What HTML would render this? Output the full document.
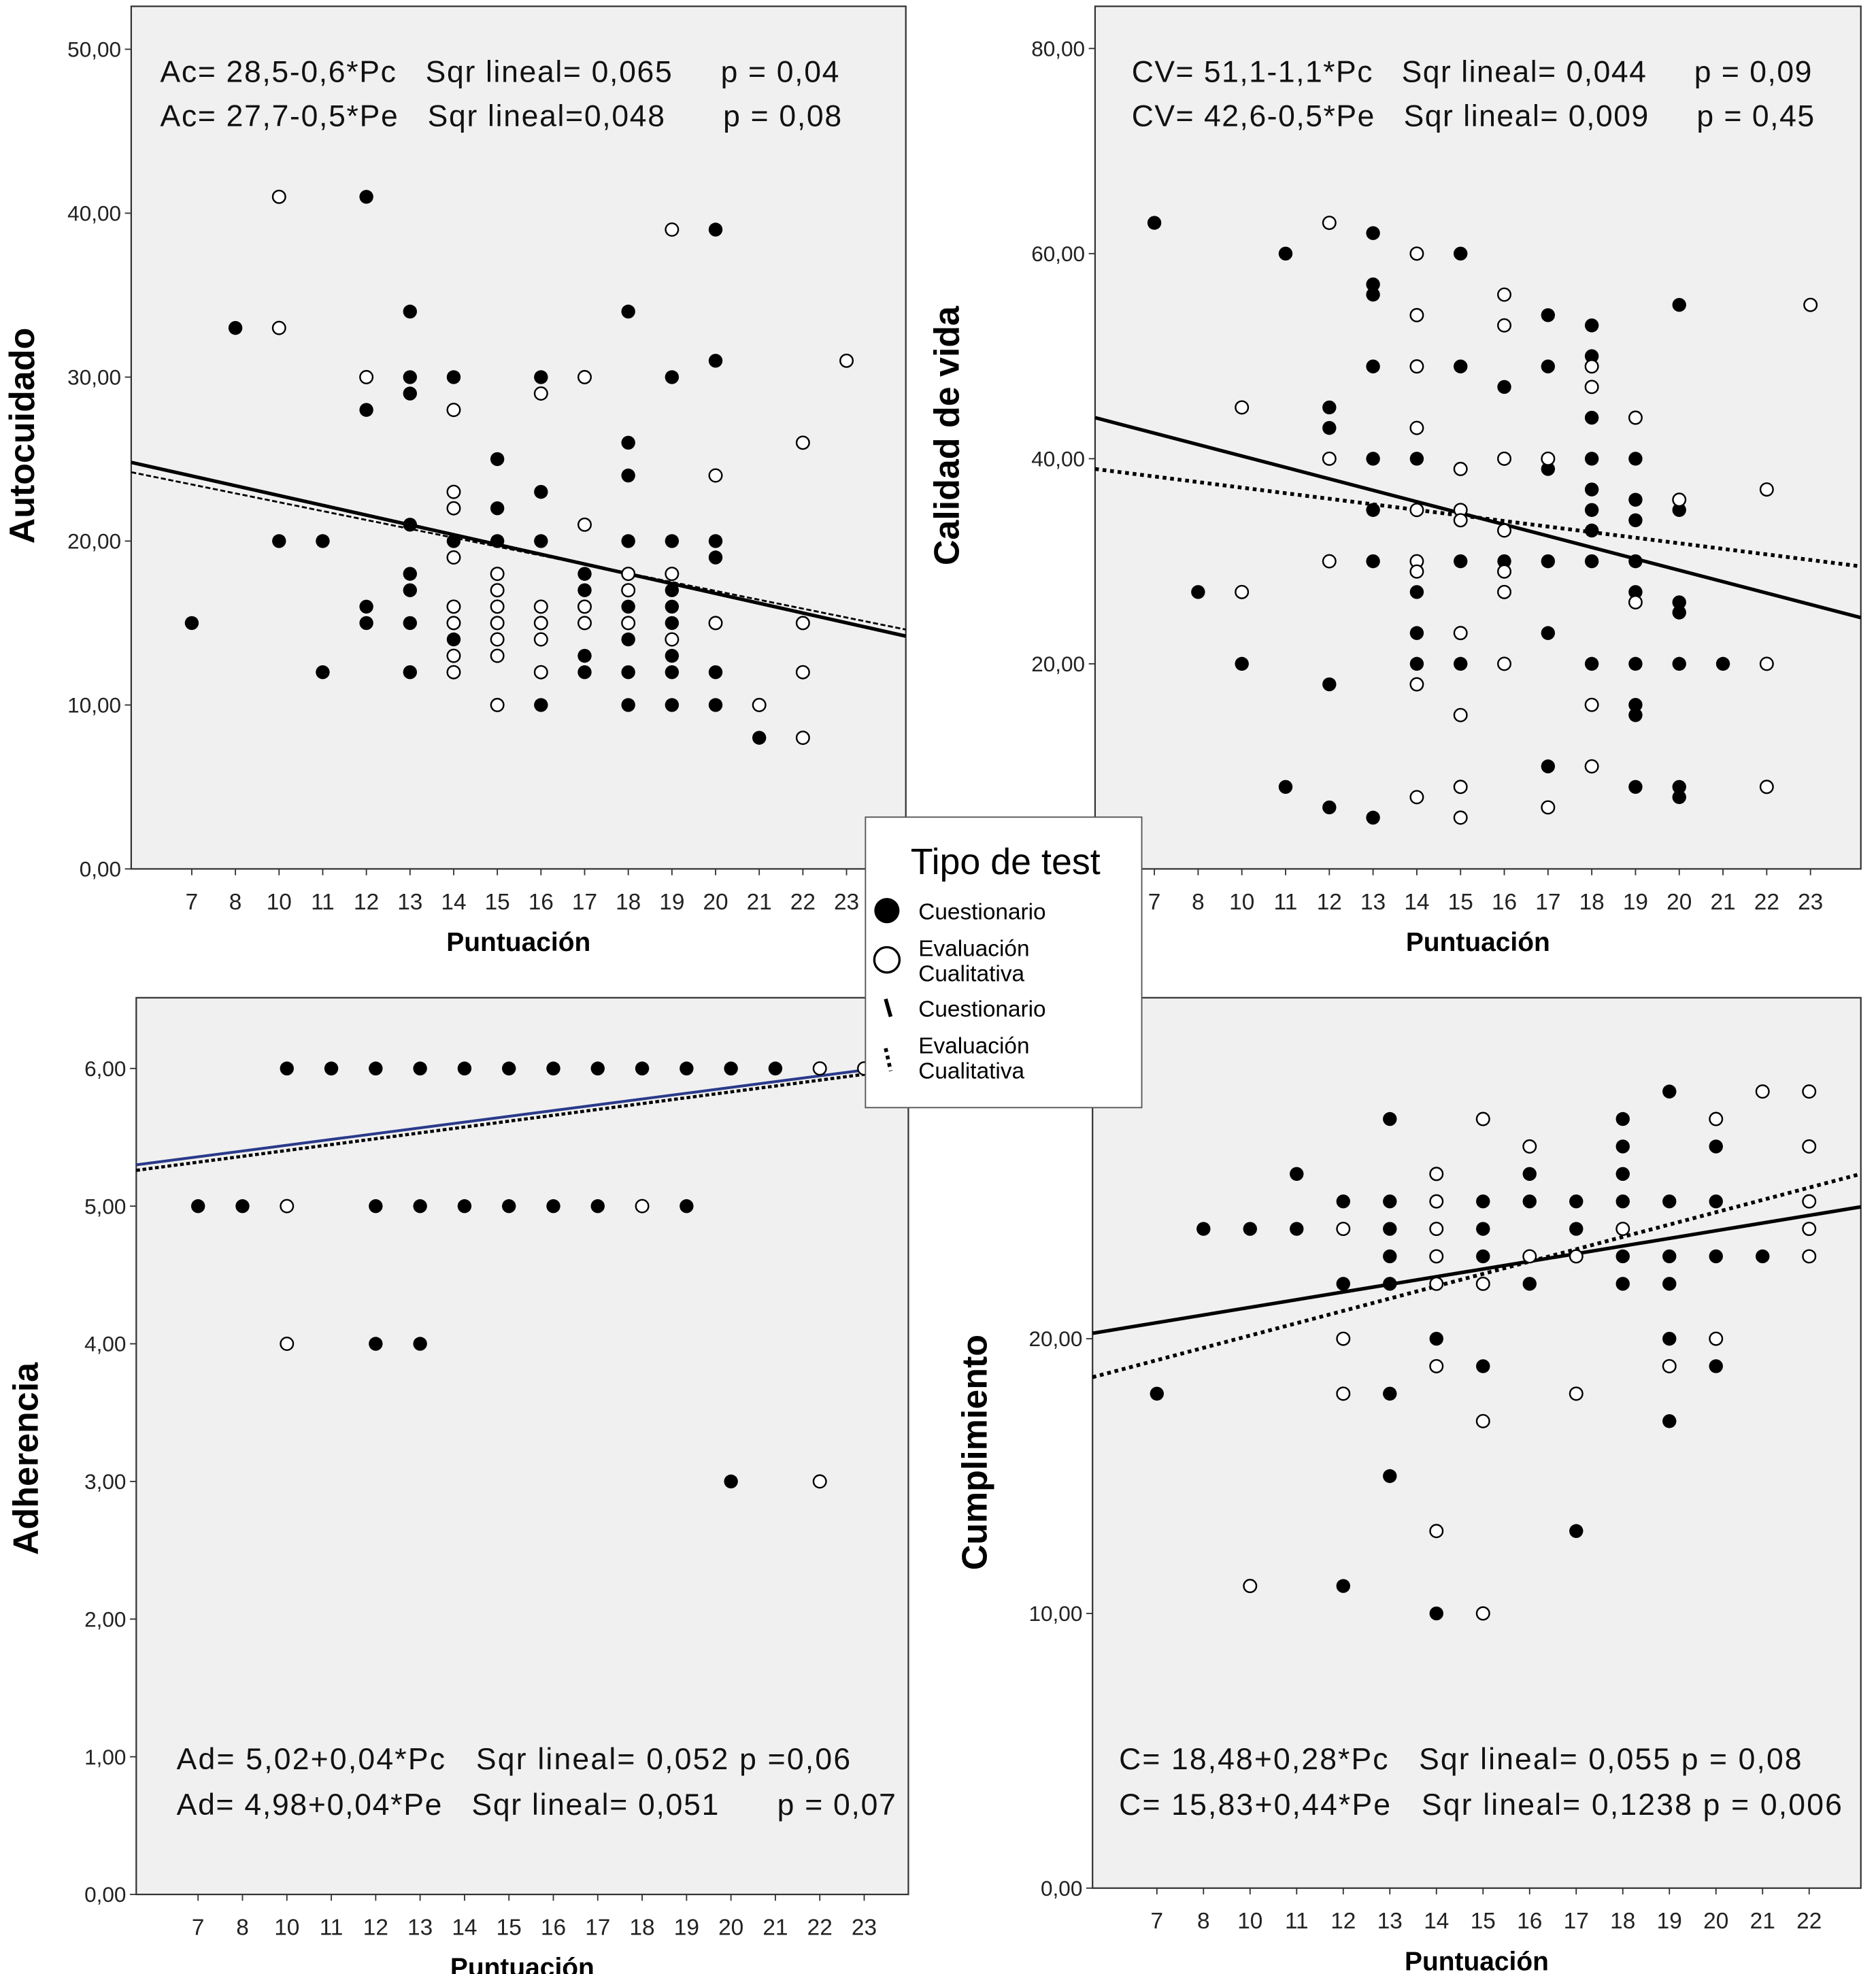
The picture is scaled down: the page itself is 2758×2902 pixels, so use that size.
<!DOCTYPE html>
<html><head><meta charset="utf-8">
<style>
html,body{margin:0;padding:0;background:#fff;}
svg{display:block;}
text{font-family:"Liberation Sans",sans-serif;}
</style></head>
<body>
<svg id="chart" width="2758" height="2902" viewBox="0 0 1487 1563" preserveAspectRatio="none" xmlns="http://www.w3.org/2000/svg">
<rect x="0" y="0" width="1487" height="1563" fill="#fff"/>
<g id="legend">
  <rect x="686" y="647" width="219" height="230" fill="#fff" stroke="#555" stroke-width="1"/>
  <text x="797" y="692" font-size="29" text-anchor="middle">Tipo de test</text>
  <circle cx="703" cy="721" r="10" fill="#000"/>
  <text x="728" y="728" font-size="18">Cuestionario</text>
  <circle cx="703" cy="760" r="10" fill="#fff" stroke="#000" stroke-width="1.8"/>
  <text x="728" y="757" font-size="18"><tspan x="728">Evaluación</tspan><tspan x="728" dy="20">Cualitativa</tspan></text>
  <line x1="702" y1="791" x2="706" y2="805" stroke="#000" stroke-width="3"/>
  <text x="728" y="805" font-size="18">Cuestionario</text>
  <line x1="702" y1="830" x2="706" y2="848" stroke="#000" stroke-width="3" stroke-dasharray="3,3"/>
  <text x="728" y="834" font-size="18"><tspan x="728">Evaluación</tspan><tspan x="728" dy="20">Cualitativa</tspan></text>
</g>
<script>
// ---------- Panel 1: Autocuidado ----------
const p1Categories = [7,8,10,11,12,13,14,15,16,17,18,19,20,21,22,23];
const p1YTicks = [0,10,20,30,40,50];
const p1YTickLabels = ["0,00","10,00","20,00","30,00","40,00","50,00"];
const p1FilledX = [7,8,10,11,11,12,12,12,12,13,13,13,13,13,13,13,13,14,14,14,14,15,15,15,15,15,16,16,16,16,17,17,17,17,17,17,18,18,18,18,18,18,18,18,18,18,19,19,19,19,19,19,19,19,20,20,20,20,20,20,21];
const p1FilledY = [15,33,20,20,12,41,28,16,15,34,30,29,21,18,17,15,12,30,20,15,14,25,22,20,16,15,30,23,20,10,18,17,16,15,13,12,34,26,24,20,18,16,15,14,12,10,30,20,17,16,15,13,12,10,39,31,20,19,12,10,8];
const p1OpenX = [10,10,12,14,14,14,14,14,14,14,14,15,15,15,15,15,15,15,16,16,16,16,16,17,17,17,17,18,18,18,19,19,19,20,20,21,22,22,22,22,23];
const p1OpenY = [41,33,30,28,23,22,19,16,15,13,12,18,17,16,15,14,13,10,29,16,15,14,12,30,21,16,15,18,17,15,39,18,14,24,15,10,26,15,12,8,31];
const p1LineSolid = [24.8,14.2];
const p1LineDashed = [24.2,14.6];

// ---------- Panel 2: Calidad de vida ----------
const p2Categories = [7,8,10,11,12,13,14,15,16,17,18,19,20,21,22,23];
const p2YTicks = [20,40,60,80];
const p2YTickLabels = ["20,00","40,00","60,00","80,00"];
const p2FilledX = [7,8,10,11,11,12,12,12,12,13,13,13,13,13,13,13,13,14,14,14,14,15,15,15,15,16,16,16,17,17,17,17,17,17,18,18,18,18,18,18,18,18,18,19,19,19,19,19,19,19,19,19,20,20,20,20,20,20,20,21];
const p2FilledY = [63,27,20,60,8,45,43,18,6,62,57,56,49,40,35,30,5,40,27,23,20,60,49,30,20,47,30,29,54,49,39,30,23,10,53,50,44,40,37,35,33,30,20,40,36,34,30,27,20,16,15,8,55,35,26,25,20,8,7,20];
const p2OpenX = [10,10,12,12,12,14,14,14,14,14,14,14,14,14,15,15,15,15,15,15,15,16,16,16,16,16,16,16,17,17,18,18,18,18,19,19,20,22,22,22,23];
const p2OpenY = [45,27,63,40,30,60,54,49,43,35,30,29,18,7,39,35,34,23,15,8,5,56,53,40,33,29,27,20,40,6,49,47,16,10,44,26,36,37,20,8,55];
const p2LineSolid = [44,24.5];
const p2LineDashed = [39,29.5];

// ---------- Panel 3: Adherencia ----------
const p3Categories = [7,8,10,11,12,13,14,15,16,17,18,19,20,21,22,23];
const p3YTicks = [0,1,2,3,4,5,6];
const p3YTickLabels = ["0,00","1,00","2,00","3,00","4,00","5,00","6,00"];
const p3FilledX = [7,8,10,11,12,12,12,13,13,13,14,14,15,15,16,16,17,17,18,19,19,20,20,21];
const p3FilledY = [5,5,6,6,6,5,4,6,5,4,6,5,6,5,6,5,6,5,6,6,5,6,3,6];
const p3OpenX = [10,10,18,22,22,23];
const p3OpenY = [5,4,5,6,3,6];
const p3LineSolid = [5.3,6.03];
const p3LineDashed = [5.26,6.0];

// ---------- Panel 4: Cumplimiento ----------
const p4Categories = [7,8,10,11,12,13,14,15,16,17,18,19,20,21,22];
const p4YTicks = [0,10,20];
const p4YTickLabels = ["0,00","10,00","20,00"];
const p4FilledX = [7,8,10,11,11,12,12,12,13,13,13,13,13,13,13,14,14,14,14,14,15,15,15,15,15,16,16,16,16,17,17,17,17,18,18,18,18,18,18,18,19,19,19,19,19,19,20,20,20,20,21];
const p4FilledY = [18,24,24,26,24,25,22,11,28,25,24,23,22,18,15,25,24,23,20,10,25,24,23,22,19,26,25,23,22,25,24,23,13,28,27,26,25,24,23,22,29,25,23,22,20,17,27,25,23,19,23];
const p4OpenX = [10,12,12,12,14,14,14,14,14,14,14,15,15,15,15,16,16,17,17,18,19,20,20,21,22,22,22,22,22];
const p4OpenY = [11,24,20,18,26,25,24,23,22,19,13,28,22,17,10,27,23,23,18,24,19,28,20,29,29,27,25,24,23];
const p4LineSolid = [20.2,24.8];
const p4LineDashed = [18.6,26.0];

const NS = "http://www.w3.org/2000/svg";
const svg = document.getElementById('chart');
function mk(tag, attrs, parent){
  const e = document.createElementNS(NS, tag);
  for (const k in attrs) e.setAttribute(k, attrs[k]);
  (parent||svg).appendChild(e);
  return e;
}

function drawPanel(cfg){
  const g = mk('g', {});
  
  
  const L = cfg.box[0], T = cfg.box[1], R = cfg.box[2], B = cfg.box[3];
  const bg = mk('rect', {x:L, y:T, width:R-L, height:B-T, fill:'#f0f0f0', stroke:'#333', 'stroke-width':1.2}, g);
  
  
  const yScale = v => cfg.y0 - (v - 0) * cfg.ppu;
  const xScale = c => cfg.x0 + cfg.categories.indexOf(c) * cfg.dx;
  cfg.yTicks.forEach((t, i) => {
    const y = yScale(t);
    mk('line', {x1:L-5, y1:y, x2:L, y2:y, stroke:'#333', 'stroke-width':1}, g);
    const tx = mk('text', {x:L-8, y:y+6, 'font-size':17, 'text-anchor':'end', fill:'#222'}, g);
    tx.textContent = cfg.yLabels[i];
    
    
  });
  cfg.categories.forEach(c => {
    const x = xScale(c);
    mk('line', {x1:x, y1:B, x2:x, y2:B+5, stroke:'#333', 'stroke-width':1}, g);
    const tx = mk('text', {x:x, y:B+32, 'font-size':18, 'text-anchor':'middle', fill:'#222'}, g);
    tx.textContent = String(c);
    
    
  });
  const xt = mk('text', {x:(L+R)/2, y:B+65, 'font-size':21, 'font-weight':'bold', 'text-anchor':'middle'}, g);
  xt.textContent = 'Puntuación';
  
  
  const yt = mk('text', {x:0, y:0, 'font-size':28, 'font-weight':'bold', 'text-anchor':'middle', transform:`translate(${cfg.yTitleX},${cfg.yTitleY}) rotate(-90)`}, g);
  yt.textContent = cfg.yTitle;
  
  
  const ls = mk('line', {x1:L, y1:yScale(cfg.lineSolid[0]), x2:R, y2:yScale(cfg.lineSolid[1]), stroke:cfg.solidColor||'#000', 'stroke-width':cfg.solidW}, g);
  
  
  const ld = mk('line', {x1:L, y1:yScale(cfg.lineDashed[0]), x2:R, y2:yScale(cfg.lineDashed[1]), stroke:'#000', 'stroke-width':cfg.dashW, 'stroke-dasharray':cfg.dash}, g);
  
  
  cfg.filledX.forEach((xv, i) => {
    const c = mk('circle', {cx:xScale(xv), cy:yScale(cfg.filledY[i]), r:5.5, fill:'#000'}, g);
    
    
  });
  cfg.openX.forEach((xv, i) => {
    const c = mk('circle', {cx:xScale(xv), cy:yScale(cfg.openY[i]), r:5, fill:'#fff', stroke:'#000', 'stroke-width':1.3}, g);
    
    
  });
  cfg.notes.forEach((n, i) => {
    const t = mk('text', {x:n[0], y:n[1], 'font-size':24, fill:'#111', textLength:n[3], lengthAdjust:'spacing'}, g);
    t.style.whiteSpace = 'pre';
    t.textContent = n[2];
    
    
  });
}

drawPanel({name:'panel-autocuidado', box:[104,5,718,688], categories:p1Categories, x0:152, dx:34.6, y0:688, ppu:12.98,
  yTicks:p1YTicks, yLabels:p1YTickLabels, yTitle:'Autocuidado', yTitleX:27, yTitleY:345,
  filledX:p1FilledX, filledY:p1FilledY, openX:p1OpenX, openY:p1OpenY,
  lineSolid:p1LineSolid, lineDashed:p1LineDashed, solidW:2.8, dashW:1.5, dash:'4,2',
  notes:[[127,65,'Ac= 28,5-0,6*Pc   Sqr lineal= 0,065     p = 0,04',538],[127,100,'Ac= 27,7-0,5*Pe   Sqr lineal=0,048      p = 0,08',540]]});

drawPanel({name:'panel-calidad-de-vida', box:[868,5,1475,688], categories:p2Categories, x0:915, dx:34.67, y0:688, ppu:8.12,
  yTicks:p2YTicks, yLabels:p2YTickLabels, yTitle:'Calidad de vida', yTitleX:760, yTitleY:345,
  filledX:p2FilledX, filledY:p2FilledY, openX:p2OpenX, openY:p2OpenY,
  lineSolid:p2LineSolid, lineDashed:p2LineDashed, solidW:2.8, dashW:3, dash:'3,3',
  notes:[[897,65,'CV= 51,1-1,1*Pc   Sqr lineal= 0,044     p = 0,09',539],[897,100,'CV= 42,6-0,5*Pe   Sqr lineal= 0,009     p = 0,45',541]]});

drawPanel({name:'panel-adherencia', box:[108,790,720,1500], categories:p3Categories, x0:157, dx:35.2, y0:1500, ppu:109,
  yTicks:p3YTicks, yLabels:p3YTickLabels, yTitle:'Adherencia', yTitleX:30, yTitleY:1155,
  filledX:p3FilledX, filledY:p3FilledY, openX:p3OpenX, openY:p3OpenY,
  lineSolid:p3LineSolid, lineDashed:p3LineDashed, solidColor:'#2a3a8a', solidW:2.2, dashW:2.5, dash:'3,2',
  notes:[[140,1401,'Ad= 5,02+0,04*Pc   Sqr lineal= 0,052 p =0,06',534],[140,1437,'Ad= 4,98+0,04*Pe   Sqr lineal= 0,051      p = 0,07',570]]});

drawPanel({name:'panel-cumplimiento', box:[866,790,1475,1495], categories:p4Categories, x0:917, dx:36.93, y0:1495, ppu:21.75,
  yTicks:p4YTicks, yLabels:p4YTickLabels, yTitle:'Cumplimiento', yTitleX:782, yTitleY:1150,
  filledX:p4FilledX, filledY:p4FilledY, openX:p4OpenX, openY:p4OpenY,
  lineSolid:p4LineSolid, lineDashed:p4LineDashed, solidW:2.8, dashW:3, dash:'3,3',
  notes:[[887,1401,'C= 18,48+0,28*Pc   Sqr lineal= 0,055 p = 0,08',541],[887,1437,'C= 15,83+0,44*Pe   Sqr lineal= 0,1238 p = 0,006',573]]});

svg.appendChild(document.getElementById('legend'));
</script>
</svg>
</body></html>
